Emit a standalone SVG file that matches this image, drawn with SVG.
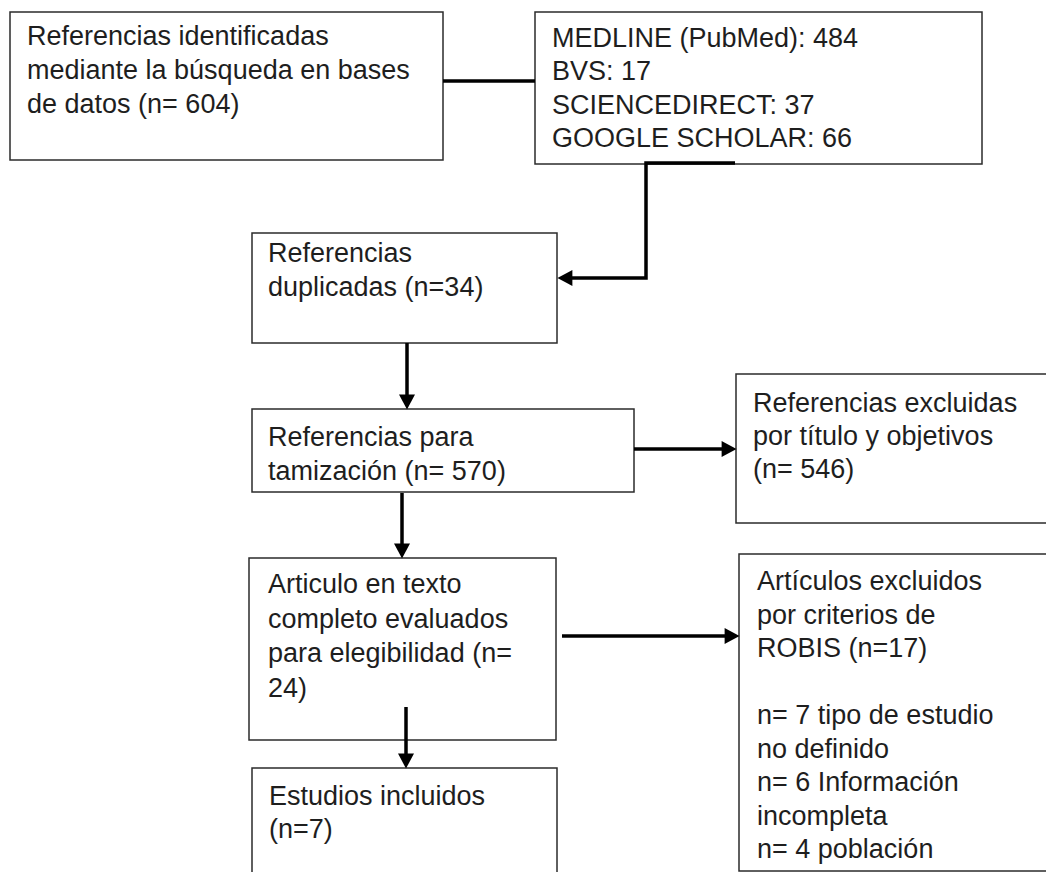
<svg xmlns="http://www.w3.org/2000/svg" width="1046" height="872" viewBox="0 0 1046 872">
<style>
.box{fill:#fff;stroke:#2b2b2b;stroke-width:1.5}
.t{font-family:"Liberation Sans",Arial,sans-serif;font-size:27px;fill:#1e1e1e}
.c{fill:none;stroke:#000;stroke-width:3.5}
</style>
<defs>
<marker id="ah" markerUnits="userSpaceOnUse" markerWidth="16" markerHeight="16" viewBox="0 0 14 15" refX="6" refY="7.5" orient="auto">
<path d="M0,0 L14,7.5 L0,15 z" fill="#000"/>
</marker>
</defs>
<rect width="1046" height="872" fill="#fff"/>
<g id="n1"><rect class="box" x="10" y="12" width="433" height="148"/>
<text class="t"><tspan x="27" y="45">Referencias identificadas</tspan><tspan x="27" y="79">mediante la búsqueda en bases</tspan><tspan x="27" y="113">de datos (n= 604)</tspan></text></g>
<g id="n2"><rect class="box" x="535" y="12" width="447" height="152"/>
<text class="t"><tspan x="552" y="46.5">MEDLINE (PubMed): 484</tspan><tspan x="552" y="80">BVS: 17</tspan><tspan x="552" y="113.5">SCIENCEDIRECT: 37</tspan><tspan x="552" y="147">GOOGLE SCHOLAR: 66</tspan></text></g>
<g id="n3"><rect class="box" x="252" y="233" width="305" height="110"/>
<text class="t"><tspan x="268" y="262">Referencias</tspan><tspan x="268" y="295.5">duplicadas (n=34)</tspan></text></g>
<g id="n4"><rect class="box" x="252" y="409" width="382" height="83"/>
<text class="t"><tspan x="268" y="446">Referencias para</tspan><tspan x="268" y="479.5">tamización (n= 570)</tspan></text></g>
<g id="n5"><rect class="box" x="736" y="374" width="320" height="149"/>
<text class="t"><tspan x="753" y="412">Referencias excluidas</tspan><tspan x="753" y="445">por título y objetivos</tspan><tspan x="753" y="478">(n= 546)</tspan></text></g>
<g id="n6"><rect class="box" x="249" y="558" width="307" height="182"/>
<text class="t"><tspan x="268" y="593">Articulo en texto</tspan><tspan x="268" y="627.5">completo evaluados</tspan><tspan x="268" y="662">para elegibilidad (n=</tspan><tspan x="268" y="696.5">24)</tspan></text></g>
<g id="n7"><rect class="box" x="252" y="768" width="305" height="130"/>
<text class="t"><tspan x="269" y="805">Estudios incluidos</tspan><tspan x="269" y="838">(n=7)</tspan></text></g>
<g id="n8"><rect class="box" x="739" y="554" width="320" height="317"/>
<text class="t"><tspan x="757" y="590">Artículos excluidos</tspan><tspan x="757" y="623.5">por criterios de</tspan><tspan x="757" y="657">ROBIS (n=17)</tspan><tspan x="757" y="724">n= 7 tipo de estudio</tspan><tspan x="757" y="757.5">no definido</tspan><tspan x="757" y="791">n= 6 Información</tspan><tspan x="757" y="824.5">incompleta</tspan><tspan x="757" y="858">n= 4 población</tspan></text></g>
<g id="connectors">
<path class="c" d="M443,81 H535"/>
<path class="c" d="M735,163 H646 V278 H566" marker-end="url(#ah)"/>
<path class="c" d="M407,343 V401" marker-end="url(#ah)"/>
<path class="c" d="M634,449 H728" marker-end="url(#ah)"/>
<path class="c" d="M402,493 V550" marker-end="url(#ah)"/>
<path class="c" d="M562,636 H731" marker-end="url(#ah)"/>
<path class="c" d="M406,707 V760" marker-end="url(#ah)"/>
</g>
</svg>
